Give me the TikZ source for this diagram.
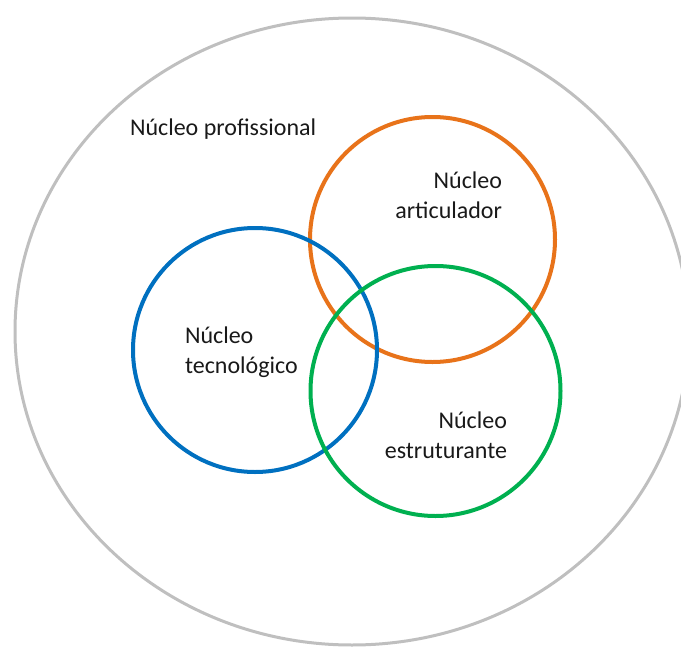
\documentclass[tikz,border=0pt]{standalone}
\usepackage{fontspec}
\setmainfont{Carlito}
\usetikzlibrary{shapes.geometric}
\begin{document}
\begin{tikzpicture}[x=1pt,y=-1pt,
  ring/.style={circle, draw, line width=4pt, inner sep=0pt, outer sep=0pt},
  label/.style={inner sep=0pt, outer sep=0pt, font=\fontsize{24}{30}\selectfont, text=black!90}]
  \definecolor{ringgrey}{HTML}{BFBFBF}
  \definecolor{ringorange}{HTML}{E8731A}
  \definecolor{ringblue}{HTML}{0070C0}
  \definecolor{ringgreen}{HTML}{00B050}
  \useasboundingbox (0,0) rectangle (681,648);
  \clip (0,0) rectangle (681,648);
  % outer professional core
  \node[ellipse, draw=ringgrey, line width=3pt, minimum width=674pt, minimum height=627pt, inner sep=0pt] (prof) at (352,331.5) {};
  % the three inner cores
  \node[ring, draw=ringorange, minimum size=245pt] (artic) at (432.5,239.5) {};
  \node[ring, draw=ringblue, minimum size=244pt] (tecno) at (255,350) {};
  \node[ring, draw=ringgreen, minimum size=250pt] (estru) at (435.5,391) {};
  % labels (base anchor of a two-line label sits on its last line)
  \node[label, anchor=base west] (tprof) at (130,135) {Núcleo profissional};
  \node[label, anchor=base west, align=left] (ttecno) at (185,373) {Núcleo\\tecnológico};
  \node[label, anchor=base east, align=right] (tartic) at (502,218) {Núcleo\\articulador};
  \node[label, anchor=base east, align=right] (testru) at (507,458) {Núcleo\\estruturante};
\end{tikzpicture}
\end{document}
